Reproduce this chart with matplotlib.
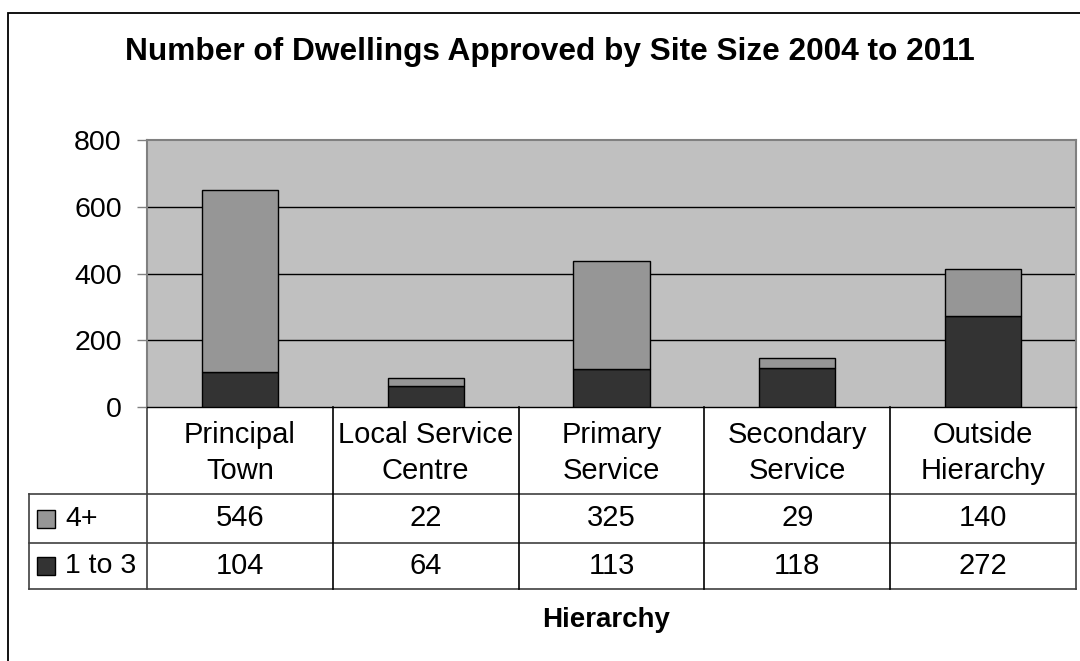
import matplotlib.pyplot as plt
from matplotlib.patches import Rectangle
from matplotlib.transforms import blended_transform_factory

plt.rcParams['font.family'] = ['Liberation Sans', 'DejaVu Sans']

categories = ["Principal\nTown", "Local Service\nCentre", "Primary\nService",
              "Secondary\nService", "Outside\nHierarchy"]
small_sites = [104, 64, 113, 118, 272]   # 1 to 3
large_sites = [546, 22, 325, 29, 140]    # 4+
series = [("4+", large_sites, "#969696"), ("1 to 3", small_sites, "#333333")]
y_ticks = [0, 200, 400, 600, 800]

W, H = 1080, 661
fig = plt.figure(figsize=(W / 100, H / 100), dpi=100)

# outer chart frame
fig.patches.append(Rectangle((8 / W, -0.1), 1.2, 1 - 13 / H + 0.1, transform=fig.transFigure,
                             fill=False, edgecolor="black", linewidth=1.3, zorder=0))

# plot area in pixels
left, right, top, bottom = 147, 1076, 140, 407
ax = fig.add_axes([left / W, 1 - bottom / H, (right - left) / W, (bottom - top) / H])
ax.set_facecolor("#C0C0C0")

x = list(range(len(categories)))
ax.bar(x, small_sites, width=0.41, color="#333333", edgecolor="black", linewidth=1, zorder=3)
ax.bar(x, large_sites, bottom=small_sites, width=0.41, color="#969696",
       edgecolor="black", linewidth=1, zorder=3)

ax.set_xlim(-0.5, len(categories) - 0.5)
ax.set_ylim(0, 800)
ax.set_yticks(y_ticks)
ax.set_yticklabels([str(v) for v in y_ticks], fontsize=20.5)
ax.tick_params(axis="y", length=7.2, width=1, pad=11, color="#808080")
ax.set_xticks([])
for v in y_ticks[1:-1]:
    ax.axhline(v, color="black", linewidth=1, zorder=1)
for s in ["left", "top", "right"]:
    ax.spines[s].set_color("#808080")
    ax.spines[s].set_linewidth(1.5)
ax.spines["bottom"].set_color("black")
ax.spines["bottom"].set_linewidth(1)

fig.text(550 / W, 1 - 52 / H, "Number of Dwellings Approved by Site Size 2004 to 2011",
         ha="center", va="center", fontsize=22.8, fontweight="bold")

# data table below the axis (x in data units, y in axes fraction)
tr = blended_transform_factory(ax.transData, ax.transAxes)
ph = bottom - top
col_w = (right - left) / len(categories)


def ya(py):
    return -(py - bottom) / ph


label_left = -0.5 - (left - 29) / col_w
row_lines = [494, 543, 589]
lc = "#404040"
for py in row_lines:
    ax.plot([label_left, len(categories) - 0.5], [ya(py)] * 2, color=lc, lw=1.2,
            transform=tr, clip_on=False)
for i in range(len(categories) + 1):
    ax.plot([i - 0.5] * 2, [ya(bottom), ya(589)], color="black" if 0 < i < len(categories) else lc,
            lw=1.2, transform=tr, clip_on=False)
ax.plot([label_left] * 2, [ya(494), ya(589)], color=lc, lw=1.2, transform=tr, clip_on=False)

for i, name in enumerate(categories):
    ax.text(i, ya(453), name, transform=tr, ha="center", va="center", fontsize=21,
            linespacing=1.35)

row_centers = [518.5, 566]
for (name, vals, color), cy in zip(series, row_centers):
    for i, v in enumerate(vals):
        ax.text(i, ya(cy), str(v), transform=tr, ha="center", va="center", fontsize=21)
    sq_w = 18 / col_w
    ax.add_patch(Rectangle((label_left + 8 / col_w, ya(cy + 9)), sq_w, 18 / ph, transform=tr,
                           facecolor=color, edgecolor="black", linewidth=1, clip_on=False))
    ax.text(label_left + 36 / col_w, ya(cy), name, transform=tr, ha="left", va="center",
            fontsize=20.5)

fig.text(606 / W, 1 - 620 / H, "Hierarchy", ha="center", va="center", fontsize=20,
         fontweight="bold")

fig.savefig("out.png", dpi=100)
